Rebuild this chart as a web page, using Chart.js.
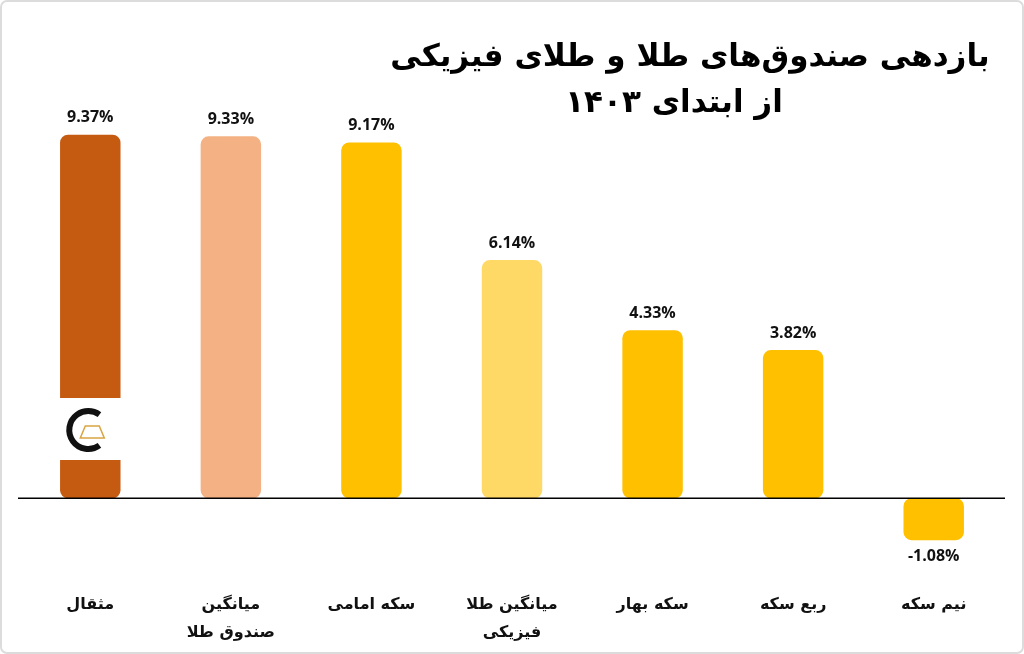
<!DOCTYPE html>
<html>
<head>
<meta charset="utf-8">
<script src="https://cdn.jsdelivr.net/npm/chart.js@4"></script>
<style>
  html, body { margin: 0; padding: 0; background: #fff; }
  #wrap { width: 1024px; height: 654px; position: relative; }
</style>
</head>
<body>
<div id="wrap"><canvas id="chart" width="1024" height="654"></canvas></div>
<script>
// data
const categories = ['مثقال', ['میانگین', 'صندوق طلا'], 'سکه امامی', ['میانگین طلا', 'فیزیکی'], 'سکه بهار', 'ربع سکه', 'نیم سکه'];
const returns = [9.37, 9.33, 9.17, 6.14, 4.33, 3.82, -1.08];
const barColors = ['#C55A11', '#F4B183', '#FFC000', '#FFD966', '#FFC000', '#FFC000', '#FFC000'];
const titleLines = ['بازدهی صندوق‌های طلا و طلای فیزیکی', 'از ابتدای ۱۴۰۳'];

const arabicFont = '"DejaVu Sans", sans-serif';
const numFont = '"Open Sans", sans-serif';

// frame, title, zero line, value labels
const decor = {
    id: 'decor',
    beforeDraw(chart) {
        const ctx = chart.ctx;
        ctx.save();
        ctx.fillStyle = '#fff';
        ctx.fillRect(0, 0, chart.width, chart.height);
        ctx.strokeStyle = '#dcdcdc';
        ctx.lineWidth = 2;
        ctx.beginPath();
        ctx.roundRect(1, 1, chart.width - 2, chart.height - 2, 6);
        ctx.stroke();
        ctx.restore();
    },
    afterDatasetsDraw(chart) {
        const ctx = chart.ctx;
        const y = chart.scales.y;
        const meta = chart.getDatasetMeta(0);
        ctx.save();

        // watermark logo on first bar
        const b0 = meta.data[0];
        ctx.fillStyle = '#fff';
        ctx.fillRect(b0.x - b0.width / 2 - 1, 398, b0.width + 2, 62);
        ctx.strokeStyle = '#111';
        ctx.lineWidth = 6;
        ctx.beginPath();
        ctx.arc(b0.x - 2, 430, 19, 0.3 * Math.PI, 1.7 * Math.PI, false);
        ctx.stroke();
        ctx.strokeStyle = '#d9a441';
        ctx.lineWidth = 1.5;
        ctx.beginPath();
        ctx.moveTo(b0.x - 10, 438); ctx.lineTo(b0.x + 14, 438);
        ctx.lineTo(b0.x + 9, 426); ctx.lineTo(b0.x - 5, 426); ctx.closePath();
        ctx.stroke();

        // zero line
        const y0 = y.getPixelForValue(0);
        ctx.strokeStyle = '#000';
        ctx.lineWidth = 1.5;
        ctx.beginPath();
        ctx.moveTo(18, y0);
        ctx.lineTo(1005, y0);
        ctx.stroke();

        // value labels
        ctx.fillStyle = '#111';
        ctx.font = 'bold 16px ' + numFont;
        ctx.textAlign = 'center';
        ctx.textBaseline = 'middle';
        meta.data.forEach((bar, i) => {
            const v = returns[i];
            const ly = v >= 0 ? bar.y - 17 : bar.y + 16;
            ctx.fillText(v.toFixed(2) + '%', bar.x, ly);
        });

        // title
        ctx.font = 'bold 31px ' + arabicFont;
        ctx.direction = 'rtl';
        ctx.textAlign = 'center';
        ctx.fillStyle = '#000';
        ctx.fillText(titleLines[0], 690, 58);
        ctx.fillText(titleLines[1], 674, 104);
        ctx.restore();
    }
};

new Chart(document.getElementById('chart'), {
    type: 'bar',
    data: {
        labels: categories,
        datasets: [{
            data: returns,
            backgroundColor: barColors,
            borderRadius: 8,
            borderSkipped: false,
            barPercentage: 0.43,
            categoryPercentage: 1
        }]
    },
    options: {
        responsive: false,
        animation: false,
        layout: { padding: { left: 20, right: 20, top: 120, bottom: 8 } },
        plugins: {
            legend: { display: false },
            tooltip: { enabled: false }
        },
        scales: {
            x: {
                grid: { display: false },
                border: { display: false },
                afterFit(scale) { scale.height = 76; },
                ticks: {
                    color: '#111',
                    padding: 12,
                    maxRotation: 0,
                    autoSkip: false,
                    font: { family: arabicFont, size: 16, weight: 'bold', lineHeight: 1.8 }
                }
            },
            y: {
                display: false,
                min: -1.85,
                max: 9.75
            }
        }
    },
    plugins: [decor]
});
</script>
</body>
</html>
